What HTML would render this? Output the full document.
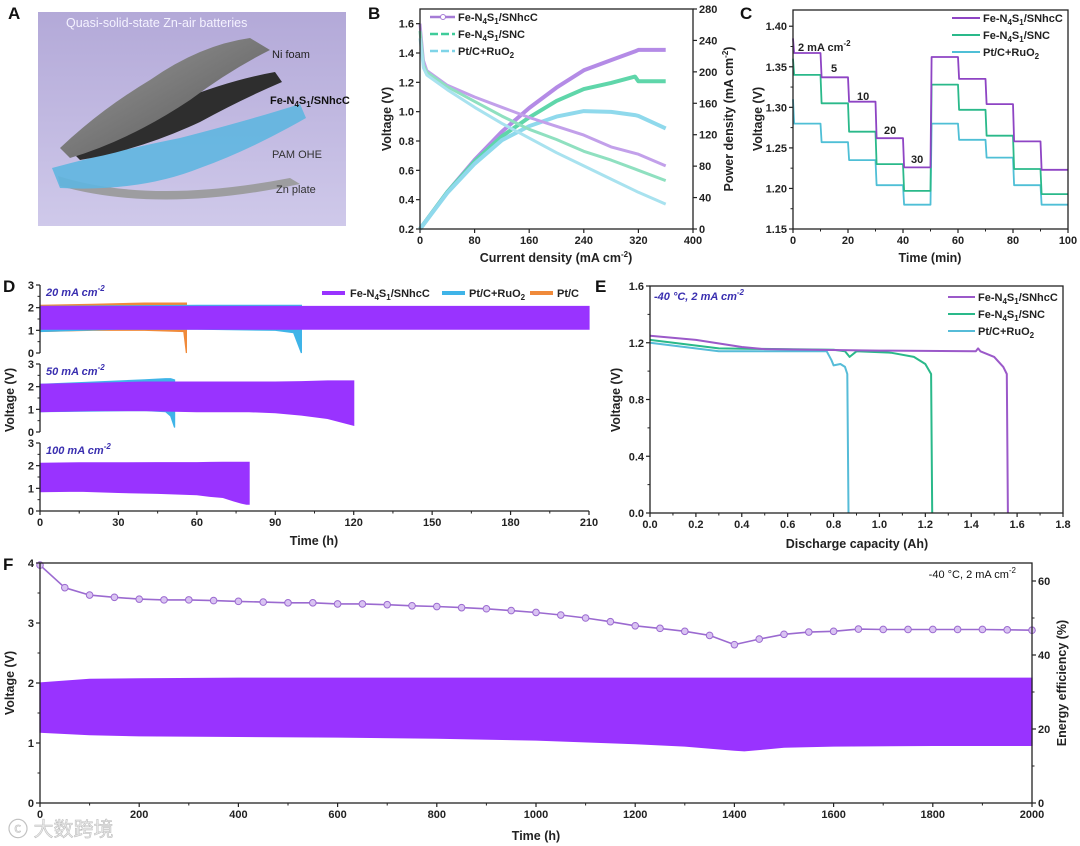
<!DOCTYPE html>
<html><head><meta charset="utf-8"><style>
html,body{margin:0;padding:0;background:#fff;}
svg{display:block;font-family:"Liberation Sans","Noto Sans CJK SC",sans-serif;}
.tk{font-size:11px;font-weight:bold;fill:#222;}
.ttl{font-size:12.5px;font-weight:bold;fill:#222;}
.pl{font-size:17px;font-weight:bold;fill:#111;}
.lg{font-size:11px;font-weight:bold;fill:#222;}
.ann{font-size:11px;font-weight:bold;font-style:italic;fill:#3a2fb0;}
</style></head><body>
<svg id="fig" width="1080" height="846" viewBox="0 0 1080 846" xmlns="http://www.w3.org/2000/svg">
<defs>
<linearGradient id="bgA" x1="0" y1="0" x2="0" y2="1"><stop offset="0" stop-color="#b3a9d8"/><stop offset="1" stop-color="#cfc9ea"/></linearGradient>
<linearGradient id="grey1" x1="0" y1="0" x2="1" y2="1"><stop offset="0" stop-color="#9a9a9a"/><stop offset="1" stop-color="#555"/></linearGradient>
</defs>
<!-- Panel A illustration -->
<g>
<rect x="38" y="12" width="308" height="214" fill="url(#bgA)"/>
<text x="66" y="27" font-size="12.5" fill="#f4f2ff">Quasi-solid-state Zn-air batteries</text>
<path d="M58 176 Q150 205 290 178 L300 184 Q160 214 60 186 Z" fill="#9d9da0"/>
<path d="M52 168 Q120 150 180 138 Q250 120 300 104 L306 118 Q250 150 200 168 Q140 192 60 188 Z" fill="#5fb6e0" opacity="0.9"/>
<path d="M70 150 Q130 120 180 100 Q230 80 275 72 L282 82 Q240 100 200 122 Q140 150 80 160 Z" fill="#2e2e2e"/>
<path d="M60 148 Q100 110 150 80 Q200 45 250 38 L270 50 Q230 70 190 100 Q130 140 70 158 Z" fill="url(#grey1)"/>
<text x="272" y="58" font-size="11" fill="#222">Ni foam</text>
<text x="270" y="104" font-size="11" font-weight="bold" fill="#111">Fe-N<tspan font-size="8" dy="3">4</tspan><tspan dy="-3">S</tspan><tspan font-size="8" dy="3">1</tspan><tspan dy="-3">/SNhcC</tspan></text>
<text x="272" y="158" font-size="11" fill="#333">PAM OHE</text>
<text x="276" y="193" font-size="11" fill="#333">Zn plate</text>
</g>
<text class="pl" x="8" y="19">A</text>
<text class="pl" x="368" y="19">B</text>
<text class="pl" x="740" y="19">C</text>
<text class="pl" x="3" y="292">D</text>
<text class="pl" x="595" y="292">E</text>
<text class="pl" x="3" y="570">F</text>

<!-- axis titles -->
<text class="ttl" transform="translate(391,119) rotate(-90)" text-anchor="middle">Voltage (V)</text>
<text class="ttl" transform="translate(733,119) rotate(-90)" text-anchor="middle">Power density (mA cm<tspan font-size="8" dy="-5">-2</tspan><tspan dy="5">)</tspan></text>
<text class="ttl" x="556" y="262" text-anchor="middle">Current density (mA cm<tspan font-size="8" dy="-5">-2</tspan><tspan dy="5">)</tspan></text>
<text class="ttl" transform="translate(762,119) rotate(-90)" text-anchor="middle">Voltage (V)</text>
<text class="ttl" x="930" y="262" text-anchor="middle">Time (min)</text>
<text class="ttl" transform="translate(14,400) rotate(-90)" text-anchor="middle">Voltage (V)</text>
<text class="ttl" x="314" y="545" text-anchor="middle">Time (h)</text>
<text class="ttl" transform="translate(620,400) rotate(-90)" text-anchor="middle">Voltage (V)</text>
<text class="ttl" x="857" y="548" text-anchor="middle">Discharge capacity (Ah)</text>
<text class="ttl" transform="translate(14,683) rotate(-90)" text-anchor="middle">Voltage (V)</text>
<text class="ttl" transform="translate(1066,683) rotate(-90)" text-anchor="middle">Energy efficiency (%)</text>
<text class="ttl" x="536" y="840" text-anchor="middle">Time (h)</text>

<!-- annotations -->
<text x="798" y="51" font-size="11" font-weight="bold" fill="#222">2 mA cm<tspan font-size="8" dy="-5">-2</tspan></text>
<text x="831" y="72" font-size="11" font-weight="bold" fill="#222">5</text>
<text x="857" y="100" font-size="11" font-weight="bold" fill="#222">10</text>
<text x="884" y="134" font-size="11" font-weight="bold" fill="#222">20</text>
<text x="911" y="163" font-size="11" font-weight="bold" fill="#222">30</text>
<text class="ann" x="46" y="296">20 mA cm<tspan font-size="8" dy="-5">-2</tspan></text>
<text class="ann" x="46" y="375">50 mA cm<tspan font-size="8" dy="-5">-2</tspan></text>
<text class="ann" x="46" y="454">100 mA cm<tspan font-size="8" dy="-5">-2</tspan></text>
<text class="ann" x="654" y="300">-40 °C, 2 mA cm<tspan font-size="8" dy="-5">-2</tspan></text>
<text x="1016" y="578" text-anchor="end" font-size="11" fill="#111">-40 °C, 2 mA cm<tspan font-size="8" dy="-5">-2</tspan></text>

<!-- legends -->
<g>
<line x1="430" y1="17" x2="455" y2="17" stroke="#a57bd6" stroke-width="2.5"/><circle cx="443" cy="17" r="2.5" fill="#fff" stroke="#a57bd6"/>
<text class="lg" x="458" y="21">Fe-N<tspan font-size="8" dy="3">4</tspan><tspan dy="-3">S</tspan><tspan font-size="8" dy="3">1</tspan><tspan dy="-3">/SNhcC</tspan></text>
<line x1="430" y1="34" x2="455" y2="34" stroke="#3fcc9a" stroke-width="2.5" stroke-dasharray="8 3"/>
<text class="lg" x="458" y="38">Fe-N<tspan font-size="8" dy="3">4</tspan><tspan dy="-3">S</tspan><tspan font-size="8" dy="3">1</tspan><tspan dy="-3">/SNC</tspan></text>
<line x1="430" y1="51" x2="455" y2="51" stroke="#7fd4e8" stroke-width="2.5" stroke-dasharray="8 3"/>
<text class="lg" x="458" y="55">Pt/C+RuO<tspan font-size="8" dy="3">2</tspan></text>
</g>
<g>
<line x1="952" y1="18" x2="980" y2="18" stroke="#8e44c4" stroke-width="2"/>
<text class="lg" x="983" y="22">Fe-N<tspan font-size="8" dy="3">4</tspan><tspan dy="-3">S</tspan><tspan font-size="8" dy="3">1</tspan><tspan dy="-3">/SNhcC</tspan></text>
<line x1="952" y1="35" x2="980" y2="35" stroke="#2ab98a" stroke-width="2"/>
<text class="lg" x="983" y="39">Fe-N<tspan font-size="8" dy="3">4</tspan><tspan dy="-3">S</tspan><tspan font-size="8" dy="3">1</tspan><tspan dy="-3">/SNC</tspan></text>
<line x1="952" y1="52" x2="980" y2="52" stroke="#4fbfd6" stroke-width="2"/>
<text class="lg" x="983" y="56">Pt/C+RuO<tspan font-size="8" dy="3">2</tspan></text>
</g>
<g>
<line x1="322" y1="293" x2="345" y2="293" stroke="#9933ff" stroke-width="4"/>
<text class="lg" x="350" y="297">Fe-N<tspan font-size="8" dy="3">4</tspan><tspan dy="-3">S</tspan><tspan font-size="8" dy="3">1</tspan><tspan dy="-3">/SNhcC</tspan></text>
<line x1="442" y1="293" x2="465" y2="293" stroke="#3fb4e8" stroke-width="4"/>
<text class="lg" x="469" y="297">Pt/C+RuO<tspan font-size="8" dy="3">2</tspan></text>
<line x1="530" y1="293" x2="553" y2="293" stroke="#f08a3a" stroke-width="4"/>
<text class="lg" x="557" y="297">Pt/C</text>
</g>
<g>
<line x1="948" y1="297" x2="975" y2="297" stroke="#9b59c9" stroke-width="2"/>
<text class="lg" x="978" y="301">Fe-N<tspan font-size="8" dy="3">4</tspan><tspan dy="-3">S</tspan><tspan font-size="8" dy="3">1</tspan><tspan dy="-3">/SNhcC</tspan></text>
<line x1="948" y1="314" x2="975" y2="314" stroke="#2ab98a" stroke-width="2"/>
<text class="lg" x="978" y="318">Fe-N<tspan font-size="8" dy="3">4</tspan><tspan dy="-3">S</tspan><tspan font-size="8" dy="3">1</tspan><tspan dy="-3">/SNC</tspan></text>
<line x1="948" y1="331" x2="975" y2="331" stroke="#56bcd8" stroke-width="2"/>
<text class="lg" x="978" y="335">Pt/C+RuO<tspan font-size="8" dy="3">2</tspan></text>
</g>
<text x="8" y="836" font-size="20" fill="#e8e8e8" stroke="#bbb" stroke-width="0.5">ⓒ 大数跨境</text>
<g id="marks"></g>
</svg>
<script>
// ---------- data ----------
// Panel B
const bCurrent = [0,5,10,40,80,120,160,200,240,280,320,360];
const bVoltSNhcC = [1.6,1.35,1.28,1.18,1.1,1.03,0.96,0.9,0.84,0.76,0.71,0.63];
const bVoltSNC = [1.55,1.32,1.27,1.17,1.07,0.97,0.88,0.81,0.73,0.67,0.6,0.53];
const bVoltPt = [1.5,1.3,1.25,1.15,1.03,0.92,0.82,0.72,0.63,0.54,0.45,0.37];
const bPowCurrent = [0,40,80,120,160,200,240,280,315,320,360];
const bPowSNhcC = [0,47,88,124,154,180,202,215,226,228,228];
const bPowSNC = [0,47,86,118,142,163,178,186,194,188,188];
const bPowPt = [0,46,83,113,131,143,150,149,145,144,128];
// Panel C (10-min steps)
const cSteps = [0,10,20,30,40,50,60,70,80,90,100];
const cSNhcC = [1.367,1.337,1.307,1.262,1.226,1.362,1.335,1.304,1.258,1.223];
const cSNC = [1.34,1.305,1.27,1.23,1.197,1.328,1.297,1.265,1.224,1.193];
const cPt = [1.28,1.257,1.235,1.204,1.18,1.28,1.26,1.238,1.204,1.18];
// Panel D bands: time, upper, lower
const d1Time = [0,30,60,90,120,150,180,210];
const d1Up = [2.05,2.05,2.05,2.05,2.05,2.05,2.05,2.05];
const d1Low = [1.05,1.05,1.05,1.05,1.05,1.05,1.05,1.05];
const d1PtCTime = [0,20,40,55,56];
const d1PtCUp = [2.1,2.15,2.2,2.2,2.2];
const d1PtCLow = [0.95,1.0,1.0,0.95,0];
const d1PtRuTime = [0,30,60,90,97,100];
const d1PtRuUp = [2.05,2.08,2.1,2.1,2.1,2.1];
const d1PtRuLow = [0.95,1.05,1.05,1.0,0.9,0];
const d2Time = [0,20,40,60,80,90,100,110,120];
const d2Up = [2.1,2.15,2.2,2.2,2.2,2.2,2.22,2.25,2.25];
const d2Low = [0.9,0.95,0.95,0.9,0.9,0.85,0.75,0.6,0.3];
const d2PtRuTime = [0,40,48,50,51.5];
const d2PtRuUp = [2.1,2.3,2.35,2.35,2.3];
const d2PtRuLow = [0.9,0.95,0.9,0.7,0.2];
const d3Time = [0,15,30,45,60,65,70,74,77,79,80];
const d3Up = [2.1,2.12,2.12,2.13,2.13,2.14,2.15,2.15,2.15,2.15,2.15];
const d3Low = [0.85,0.88,0.82,0.78,0.72,0.65,0.6,0.45,0.35,0.3,0.3];
// Panel E
const eCapSNhcC = [0,0.2,0.4,0.5,1.0,1.42,1.43,1.44,1.5,1.54,1.555,1.56];
const eVSNhcC = [1.25,1.22,1.17,1.155,1.145,1.14,1.16,1.14,1.1,1.03,0.98,0];
const eCapSNC = [0,0.3,0.8,0.85,0.87,0.9,1.05,1.15,1.2,1.225,1.23];
const eVSNC = [1.22,1.16,1.15,1.14,1.1,1.14,1.13,1.1,1.05,0.98,0];
const eCapPt = [0,0.3,0.77,0.79,0.8,0.83,0.85,0.86,0.865];
const eVPt = [1.2,1.14,1.14,1.08,1.04,1.05,1.03,0.98,0];
// Panel F
const fTime = [0,100,200,400,600,800,1000,1200,1300,1400,1420,1460,1500,1600,1800,2000];
const fUp = [2.0,2.06,2.07,2.08,2.08,2.08,2.08,2.08,2.08,2.08,2.08,2.08,2.08,2.08,2.08,2.08];
const fLow = [1.18,1.14,1.12,1.11,1.1,1.08,1.05,0.99,0.95,0.88,0.87,0.9,0.93,0.95,0.96,0.96];
const fEETime = [0,50,100,150,200,250,300,350,400,450,500,550,600,650,700,750,800,850,900,950,1000,1050,1100,1150,1200,1250,1300,1350,1400,1450,1500,1550,1600,1650,1700,1750,1800,1850,1900,1950,2000];
const fEE = [64.3,58.2,56.2,55.6,55.1,54.9,54.9,54.7,54.5,54.3,54.1,54.1,53.8,53.8,53.6,53.3,53.1,52.8,52.5,52.0,51.5,50.8,50.0,49.0,47.9,47.2,46.4,45.3,42.8,44.3,45.6,46.2,46.4,47.0,46.9,46.9,46.9,46.9,46.9,46.8,46.7];

// ---------- helpers ----------
const NS='http://www.w3.org/2000/svg';
const root=document.getElementById('marks');
function mk(tag,attrs){const e=document.createElementNS(NS,tag);for(const k in attrs)e.setAttribute(k,attrs[k]);root.appendChild(e);return e;}
function lin(d0,d1,r0,r1){return v=>r0+(v-d0)/(d1-d0)*(r1-r0);}
function frame(x0,y0,x1,y1,name){
  const r=mk('rect',{x:x0,y:y0,width:x1-x0,height:y1-y0,fill:'none',stroke:'#222','stroke-width':1.3});
  
  
}
function axisLine(x0,y0,x1,y1,name){
  const l=mk('line',{x1:x0,y1:y0,x2:x1,y2:y1,stroke:'#222','stroke-width':1.3});
  
  
}
function ticks(vals,labels,scale,side,pos,name,minor){
  vals.forEach((v,i)=>{
    const p=scale(v);
    let a;
    if(side==='bottom')a={x1:p,y1:pos,x2:p,y2:pos+4};
    else if(side==='left')a={x1:pos-4,y1:p,x2:pos,y2:p};
    else a={x1:pos,y1:p,x2:pos+4,y2:p};
    const t=mk('line',Object.assign(a,{stroke:'#222','stroke-width':1.2}));
    
    
    if(labels[i]!==''){
      let ta;
      if(side==='bottom')ta={x:p,y:pos+15,'text-anchor':'middle'};
      else if(side==='left')ta={x:pos-6,y:p+4,'text-anchor':'end'};
      else ta={x:pos+6,y:p+4,'text-anchor':'start'};
      const tx=mk('text',Object.assign(ta,{class:'tk'}));
      tx.textContent=labels[i];
      
      
    }
  });
  if(minor){
    for(let i=0;i<vals.length-1;i++){
      const p=scale((vals[i]+vals[i+1])/2);
      let a;
      if(side==='bottom')a={x1:p,y1:pos,x2:p,y2:pos+2.5};
      else if(side==='left')a={x1:pos-2.5,y1:p,x2:pos,y2:p};
      else a={x1:pos,y1:p,x2:pos+2.5,y2:p};
      const t=mk('line',Object.assign(a,{stroke:'#222','stroke-width':1}));
      
      
    }
  }
}
function line(xs,ys,sx,sy,color,w,name,extra){
  const d=xs.map((x,i)=>(i?'L':'M')+sx(x).toFixed(1)+' '+sy(ys[i]).toFixed(1)).join(' ');
  const p=mk('path',Object.assign({d:d,fill:'none',stroke:color,'stroke-width':w,'stroke-linejoin':'round'},extra||{}));
  
  
}
function band(xs,up,low,sx,sy,color,name){
  let d='M'+xs.map((x,i)=>sx(x).toFixed(1)+' '+sy(up[i]).toFixed(1)).join(' L');
  for(let i=xs.length-1;i>=0;i--)d+=' L'+sx(xs[i]).toFixed(1)+' '+sy(low[i]).toFixed(1);
  d+='Z';
  const p=mk('path',{d:d,fill:color,stroke:color,'stroke-width':1.2});
  
  
}
function circles(xs,ys,sx,sy,color,r,name){
  xs.forEach((x,i)=>{
    const c=mk('circle',{cx:sx(x),cy:sy(ys[i]),r:r,fill:'#d9c3f2',stroke:color,'stroke-width':1});
    
    
  });
}
const range=(a,b,s)=>{const o=[];for(let v=a;v<=b+1e-9;v+=s)o.push(+v.toFixed(4));return o;};

// ---------- Panel B ----------
{
const sx=lin(0,400,420,693), sy=lin(0.2,1.7,229,9), sy2=lin(0,280,229,9);
line(bPowCurrent,bPowSNhcC,sx,sy2,'#b48be6',4,'b-power-snhcc');
line(bPowCurrent,bPowSNC,sx,sy2,'#5fd6aa',4,'b-power-snc');
line(bPowCurrent,bPowPt,sx,sy2,'#8fd9ec',4,'b-power-ptc-ruo2');
line(bCurrent,bVoltSNhcC,sx,sy,'#c2a0ea',3,'b-voltage-snhcc');
line(bCurrent,bVoltSNC,sx,sy,'#8fe0c0',3,'b-voltage-snc');
line(bCurrent,bVoltPt,sx,sy,'#a8e2ef',3,'b-voltage-ptc-ruo2');
frame(420,9,693,229,'b-plot-frame');
const yv=range(0.2,1.6,0.2);
ticks(yv,yv.map(v=>v.toFixed(1)),sy,'left',420,'b-y-axis');
const y2=range(0,280,40);
ticks(y2,y2.map(String),sy2,'right',693,'b-y2-axis');
const xv=range(0,400,80);
ticks(xv,xv.map(String),sx,'bottom',229,'b-x-axis');
}
// ---------- Panel C ----------
{
const sx=lin(0,100,793,1068), sy=lin(1.15,1.42,229,10);
function stepLine(vals,color,name,spike){
  const xs=[0],ys=[spike];
  vals.forEach((v,i)=>{xs.push(cSteps[i]+0.4,cSteps[i+1]);ys.push(v,v);});
  line(xs,ys,sx,sy,color,1.8,name);
}
stepLine(cPt,'#4fbfd6','c-ptc-ruo2',1.31);
stepLine(cSNC,'#2ab98a','c-snc',1.36);
stepLine(cSNhcC,'#8e44c4','c-snhcc',1.385);
frame(793,10,1068,229,'c-plot-frame');
const yv=range(1.15,1.40,0.05);
ticks(yv,yv.map(v=>v.toFixed(2)),sy,'left',793,'c-y-axis',true);
const xv=range(0,100,20);
ticks(xv,xv.map(String),sx,'bottom',229,'c-x-axis',true);
}
// ---------- Panel D ----------
{
const sx=lin(0,210,40,589);
const s1=lin(0,3,353,285), s2=lin(0,3,432,364), s3=lin(0,3,511,443);
band(d1PtCTime,d1PtCUp,d1PtCLow,sx,s1,'#f08a3a','d1-ptc-band');
band(d1PtRuTime,d1PtRuUp,d1PtRuLow,sx,s1,'#3fb4e8','d1-ptc-ruo2-band');
band(d1Time,d1Up,d1Low,sx,s1,'#9933ff','d1-snhcc-band');
band(d2PtRuTime,d2PtRuUp,d2PtRuLow,sx,s2,'#3fb4e8','d2-ptc-ruo2-band');
band(d2Time,d2Up,d2Low,sx,s2,'#9933ff','d2-snhcc-band');
band(d3Time,d3Up,d3Low,sx,s3,'#9933ff','d3-snhcc-band');
const yv=[0,1,2,3];
[[s1,'d1'],[s2,'d2'],[s3,'d3']].forEach(([s,n])=>{
  axisLine(40,s(3),40,s(0),n+'-y-axis-line');
  ticks(yv,yv.map(String),s,'left',40,n+'-y-axis',true);
});
axisLine(40,511,589,511,'d-x-axis-line');
const xv=range(0,210,30);
ticks(xv,xv.map(String),sx,'bottom',511,'d-x-axis',true);
}
// ---------- Panel E ----------
{
const sx=lin(0,1.8,650,1063), sy=lin(0,1.6,513,286);
line(eCapPt,eVPt,sx,sy,'#56bcd8',2,'e-ptc-ruo2');
line(eCapSNC,eVSNC,sx,sy,'#2ab98a',2,'e-snc');
line(eCapSNhcC,eVSNhcC,sx,sy,'#9b59c9',2,'e-snhcc');
frame(650,286,1063,513,'e-plot-frame');
const yv=range(0,1.6,0.4);
ticks(yv,yv.map(v=>v.toFixed(1)),sy,'left',650,'e-y-axis',true);
const xv=range(0,1.8,0.2);
ticks(xv,xv.map(v=>v.toFixed(1)),sx,'bottom',513,'e-x-axis',true);
}
// ---------- Panel F ----------
{
const sx=lin(0,2000,40,1032), sy=lin(0,4,803,563), sy2=lin(0,20,803,729);
band(fTime,fUp,fLow,sx,sy,'#9933ff','f-voltage-band');
line(fEETime,fEE,sx,sy2,'#9b6ad0',1.6,'f-energy-efficiency-line');
circles(fEETime,fEE,sx,sy2,'#9b6ad0',3.3,'f-energy-efficiency-point');
frame(40,563,1032,803,'f-plot-frame');
const yv=[0,1,2,3,4];
ticks(yv,yv.map(String),sy,'left',40,'f-y-axis',true);
const y2=[0,20,40,60];
ticks(y2,y2.map(String),sy2,'right',1032,'f-y2-axis',true);
const xv=range(0,2000,200);
ticks(xv,xv.map(String),sx,'bottom',803,'f-x-axis',true);
}
</script>
</body></html>
